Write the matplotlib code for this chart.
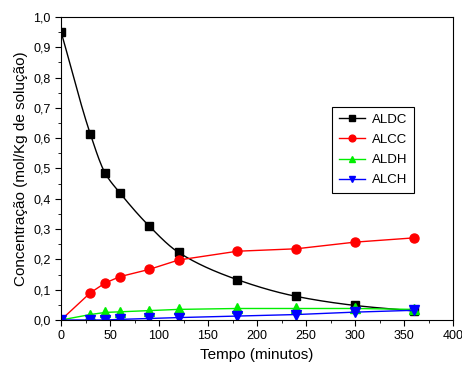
import numpy as np
import matplotlib
matplotlib.use('Agg')
import matplotlib.pyplot as plt
from matplotlib.ticker import MultipleLocator, FuncFormatter

plt.rcParams['font.family'] = ['Liberation Sans', 'DejaVu Sans']

# tempo (minutos)
tempo = [0, 30, 45, 60, 90, 120, 180, 240, 300, 360]
aldc = [0.952, 0.613, 0.485, 0.420, 0.310, 0.223, 0.133, 0.078, 0.048, 0.030]
alcc = [0.0, 0.090, 0.122, 0.143, 0.167, 0.198, 0.227, 0.235, 0.257, 0.271]
aldh = [0.0, 0.018, 0.025, 0.027, 0.031, 0.035, 0.038, 0.038, 0.038, 0.035]
alch = [0.0, 0.000, 0.000, 0.002, 0.005, 0.008, 0.013, 0.018, 0.026, 0.032]


def pchip(x, y, xs):
    # smooth monotone curve through the points (for drawing the line only)
    x = np.asarray(x, float)
    y = np.asarray(y, float)
    h = np.diff(x)
    d = np.diff(y) / h
    m = np.zeros_like(y)
    for k in range(1, len(x) - 1):
        if d[k - 1] * d[k] > 0:
            w1 = 2 * h[k] + h[k - 1]
            w2 = h[k] + 2 * h[k - 1]
            m[k] = (w1 + w2) / (w1 / d[k - 1] + w2 / d[k])
    m[0] = d[0]
    m[-1] = d[-1]
    idx = np.clip(np.searchsorted(x, xs) - 1, 0, len(x) - 2)
    t = (xs - x[idx]) / h[idx]
    h00 = 2 * t**3 - 3 * t**2 + 1
    h10 = t**3 - 2 * t**2 + t
    h01 = -2 * t**3 + 3 * t**2
    h11 = t**3 - t**2
    return h00 * y[idx] + h10 * h[idx] * m[idx] + h01 * y[idx + 1] + h11 * h[idx] * m[idx + 1]


fig = plt.figure(figsize=(4.62, 3.68), dpi=100)
ax = fig.add_axes([61 / 462, 48 / 368, 392 / 462, 303 / 368])

xs = np.linspace(0, 360, 400)
series = [
    (aldc, 'black', 's', 'ALDC', True, 5.5),
    (alcc, 'red', 'o', 'ALCC', False, 6.5),
    (aldh, '#00ee00', '^', 'ALDH', False, 6.5),
    (alch, 'blue', 'v', 'ALCH', False, 6.5),
]
for ys, c, mk, lab, smooth, ms in series:
    if smooth:
        ax.plot(xs, pchip(tempo, ys, xs), color=c, lw=1)
    else:
        ax.plot(tempo, ys, color=c, lw=1)
    ax.plot(tempo, ys, color=c, ls='none', marker=mk, ms=ms)
    ax.plot([], [], color=c, lw=1, marker=mk, ms=ms * 0.75, label=lab)

ax.set_xlim(0, 400)
ax.set_ylim(0, 1.0)
ax.xaxis.set_major_locator(MultipleLocator(50))
ax.xaxis.set_minor_locator(MultipleLocator(25))
ax.yaxis.set_major_locator(MultipleLocator(0.1))
ax.yaxis.set_minor_locator(MultipleLocator(0.05))
ax.yaxis.set_major_formatter(FuncFormatter(lambda v, p: ('%.1f' % v).replace('.', ',')))
ax.tick_params(which='both', direction='out', top=False, right=False, labelsize=9)
ax.tick_params(which='major', length=4)
ax.tick_params(which='minor', length=2.5)

ax.set_xlabel('Tempo (minutos)', fontsize=11)
ax.set_ylabel('Concentração (mol/Kg de solução)', fontsize=11)

leg = ax.legend(loc='upper left', bbox_to_anchor=(271 / 392, 213 / 303), fontsize=9.5,
                frameon=True, fancybox=False, edgecolor='black', framealpha=1,
                handlelength=2.0, handletextpad=0.5, borderpad=0.5, labelspacing=0.6,
                borderaxespad=0)
leg.get_frame().set_linewidth(0.8)

fig.savefig('out.png', dpi=100)
